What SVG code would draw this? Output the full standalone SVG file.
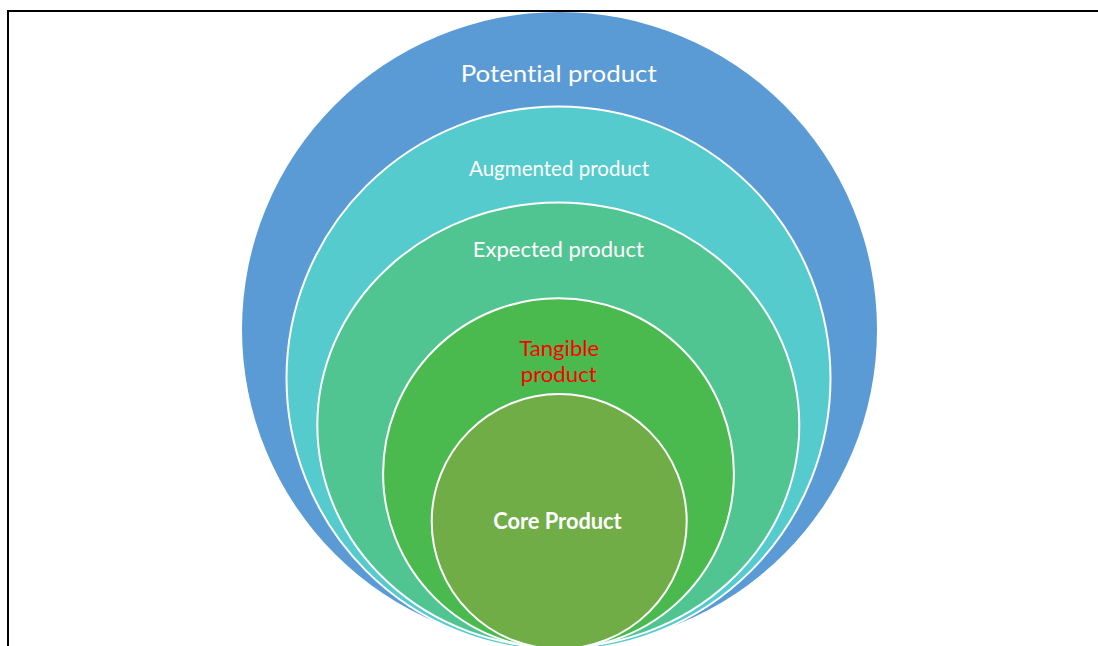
<svg xmlns="http://www.w3.org/2000/svg" width="1098" height="646" viewBox="0 0 1098 646">
  <style>
    .ring { stroke: #FFFFFF; stroke-width: 2; }
    .lbl { font-family: Lato, "Liberation Sans", Arial, sans-serif; text-anchor: middle; fill: #FFFFFF; font-variant-ligatures: none; }
    .red { fill: #FF0000; }
  </style>
  <rect width="1098" height="646" fill="#FFFFFF"/>
  <!-- frame -->
  <path d="M8 646 V11 H1098" fill="none" stroke="#000000" stroke-width="2"/>

  <g id="potential">
    <circle cx="559.5" cy="329.5" r="317.5" fill="#5B9BD5"/>
    <text class="lbl" x="558.7" y="82" font-size="23.3" textLength="196" lengthAdjust="spacingAndGlyphs">Potential product</text>
  </g>
  <g id="augmented">
    <circle class="ring" cx="558.5" cy="378.5" r="272" fill="#55CBCD"/>
    <text class="lbl" x="559" y="175.7" font-size="22" textLength="180" lengthAdjust="spacingAndGlyphs">Augmented product</text>
  </g>
  <g id="expected">
    <ellipse class="ring" cx="558.3" cy="425" rx="241" ry="222.5" fill="#50C591"/>
    <text class="lbl" x="558.3" y="256.7" font-size="21.5" textLength="171" lengthAdjust="spacingAndGlyphs">Expected product</text>
  </g>
  <g id="tangible">
    <circle class="ring" cx="558.5" cy="473.6" r="175.4" fill="#4ABA4F"/>
    <text class="lbl red" x="559.2" y="356" font-size="21.6" textLength="80" lengthAdjust="spacingAndGlyphs">Tangible</text>
    <text class="lbl red" x="558.7" y="381.5" font-size="21.6" textLength="76" lengthAdjust="spacingAndGlyphs">product</text>
  </g>
  <g id="core">
    <circle class="ring" cx="559.2" cy="521.5" r="127.5" fill="#70AD47"/>
    <text class="lbl" x="557.5" y="529" font-size="22" font-weight="bold" textLength="128.4" lengthAdjust="spacingAndGlyphs">Core Product</text>
  </g>
</svg>
